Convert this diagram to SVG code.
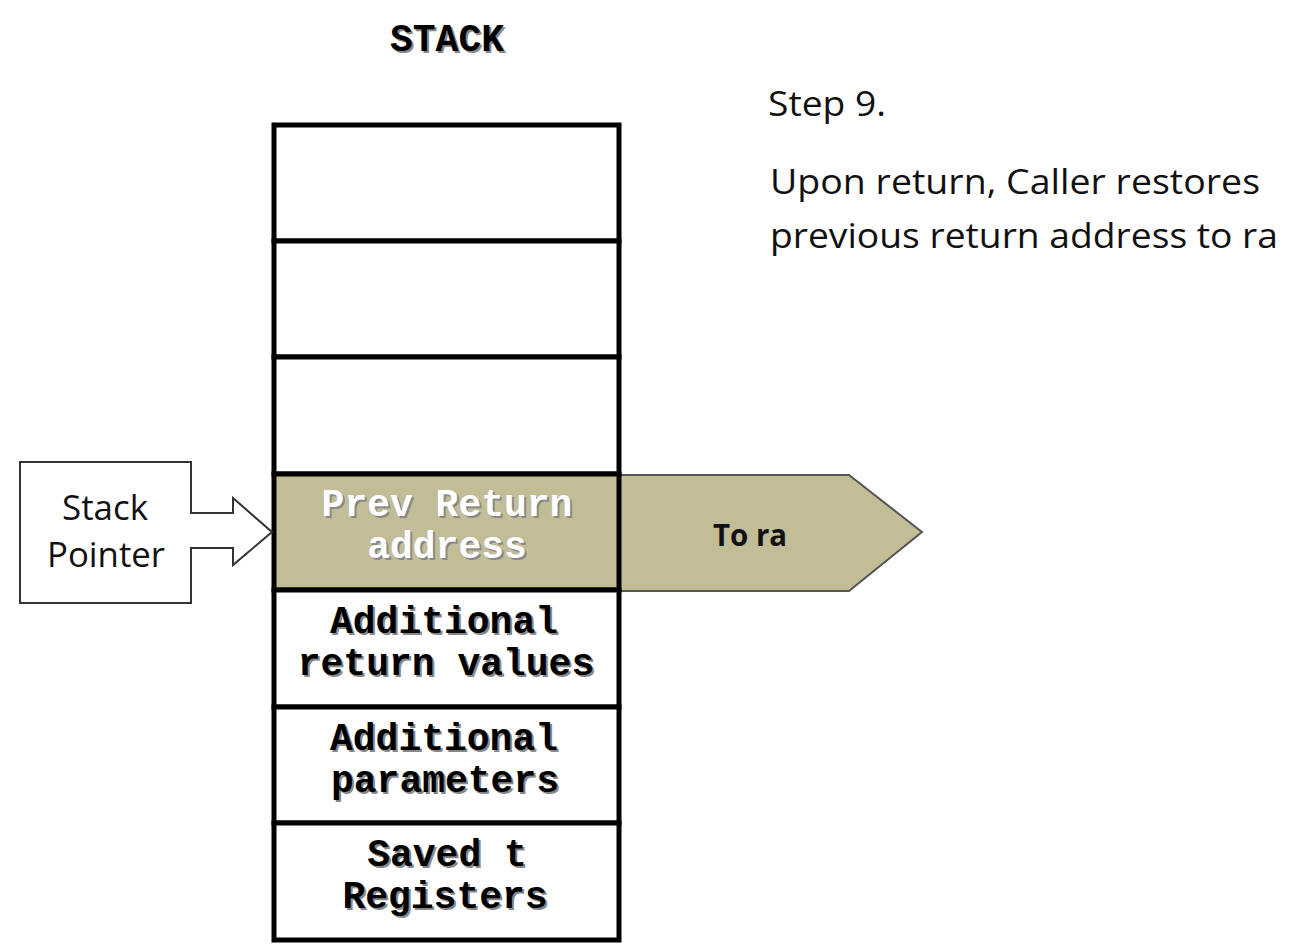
<svg xmlns="http://www.w3.org/2000/svg" width="1308" height="950" viewBox="0 0 1308 950">
<style>
.cell{fill:#fff;stroke:#000;stroke-width:5}
.mono{font-family:"Liberation Mono","Courier New",monospace;font-weight:bold;font-size:38px;text-anchor:middle}
.sh{fill:#888}
.sans{font-family:"Open Sans","Liberation Sans",Arial,sans-serif;font-size:34px;fill:#111}
</style>
<rect width="1308" height="950" fill="#fff"/>
<g id="title">
<text class="mono sh" x="449" y="53">STACK</text>
<text class="mono" x="447" y="51">STACK</text>
</g>
<g id="description">
<text class="sans" x="768" y="116" textLength="118" lengthAdjust="spacingAndGlyphs">Step 9.</text>
<text class="sans" x="770" y="194" textLength="490" lengthAdjust="spacingAndGlyphs">Upon return, Caller restores</text>
<text class="sans" x="770" y="248" textLength="508" lengthAdjust="spacingAndGlyphs">previous return address to ra</text>
</g>
<g id="connectors">
<path id="to-ra" d="M619,475 L849,475 L922,532 L849,591 L619,591 Z" fill="#c2bc97" stroke="#555" stroke-width="2"/>
<text x="750" y="546" font-family="'Open Sans','Liberation Sans',Arial,sans-serif" font-weight="bold" font-size="30" text-anchor="middle" fill="#111" textLength="74" lengthAdjust="spacingAndGlyphs">To ra</text>
</g>
<g id="stack">
<rect class="cell" x="274" y="125" width="345" height="116"/>
<rect class="cell" x="274" y="241" width="345" height="116"/>
<rect class="cell" x="274" y="357" width="345" height="117"/>
<rect id="prev-return" x="274" y="474" width="345" height="116" fill="#c2bc97" stroke="#000" stroke-width="5"/>
<rect class="cell" x="274" y="590" width="345" height="117"/>
<rect class="cell" x="274" y="707" width="345" height="116"/>
<rect class="cell" x="274" y="823" width="345" height="117"/>
</g>
<g id="prev-return-text">
<text class="mono sh" x="449" y="518">Prev Return</text>
<text class="mono" x="447" y="516" fill="#fff">Prev Return</text>
<text class="mono sh" x="449" y="560">address</text>
<text class="mono" x="447" y="558" fill="#fff">address</text>
</g>
<g id="additional-return">
<text class="mono sh" x="446" y="635">Additional</text>
<text class="mono" x="444" y="633">Additional</text>
<text class="mono sh" x="448" y="677">return values</text>
<text class="mono" x="446" y="675">return values</text>
</g>
<g id="additional-params">
<text class="mono sh" x="446" y="752">Additional</text>
<text class="mono" x="444" y="750">Additional</text>
<text class="mono sh" x="447" y="794">parameters</text>
<text class="mono" x="445" y="792">parameters</text>
</g>
<g id="saved-t">
<text class="mono sh" x="449" y="868">Saved t</text>
<text class="mono" x="447" y="866">Saved t</text>
<text class="mono sh" x="447" y="910">Registers</text>
<text class="mono" x="445" y="908">Registers</text>
</g>
<g id="stack-pointer">
<path d="M20,462 L191,462 L191,513 L233,513 L233,498 L272,532 L233,565 L233,548 L191,548 L191,603 L20,603 Z" fill="#fff" stroke="#333" stroke-width="2"/>
<text class="sans" x="105" y="520" text-anchor="middle" font-size="32" textLength="86" lengthAdjust="spacingAndGlyphs">Stack</text>
<text class="sans" x="106" y="567" text-anchor="middle" font-size="32" textLength="118" lengthAdjust="spacingAndGlyphs">Pointer</text>
</g>
</svg>
